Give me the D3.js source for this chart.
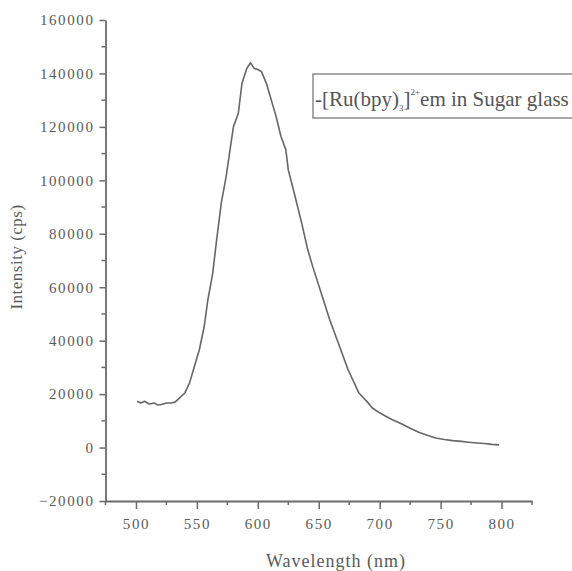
<!DOCTYPE html>
<html><head><meta charset="utf-8">
<script src="https://cdn.jsdelivr.net/npm/d3@7"></script>
<style>
body{margin:0;background:#fff;}
text{font-family:"Liberation Serif","Times New Roman",serif;}
</style></head>
<body><svg id="c" width="572" height="571"></svg>
<script>
const wavelength = [501,504,507,511,515,518,521,525,529,532,535,540,544,548,552,556,559,563,566,570,574,578,580,584,587,591,594,597,600,603,607,611,615,619,623,625,630,636,641,645,652,659,667,674,683,690,694,700,705,710,715,719,725,732,739,746,753,760,767,773,780,786,792,798];
const intensity = [17300,16700,17300,16300,16700,15900,16100,16700,16700,17000,18200,20400,24200,30400,36600,45300,55300,65300,77000,91500,101400,113900,120100,125100,136300,141900,144000,141900,141500,140700,136300,130100,123900,116400,111400,103900,95000,84000,74000,67800,57800,47800,37900,29200,20400,17000,14800,13000,11700,10500,9500,8600,7200,5700,4600,3600,3000,2600,2300,2000,1700,1500,1200,1000];
const xTicks = [500,550,600,650,700,750,800];
const yTicks = [-20000,0,20000,40000,60000,80000,100000,120000,140000,160000];
const xTitle = "Wavelength (nm)";
const yTitle = "Intensity (cps)";
const legendLabel = ["-[Ru(bpy)", "3", "]", "2+", "em in Sugar glass"];

const svg = d3.select("#c");
const x = d3.scaleLinear().domain([475,825]).range([105.5,532]);
const y = d3.scaleLinear().domain([-20000,160000]).range([501,20]);
const axCol = "#6a6a6a", txtCol = "#5a5a5a";

// minor ticks
const xMinor = d3.range(475, 826, 25).filter(v => v % 50 !== 0);
const yMinor = d3.range(-10000, 160000, 20000);
const gx = svg.append("g").attr("transform", `translate(0,${y.range()[0]})`);
gx.selectAll("line.minor").data(xMinor).join("line")
  .attr("x1", d=>x(d)).attr("x2", d=>x(d)).attr("y1",0).attr("y2",4)
  .attr("stroke", axCol).attr("stroke-width",1.5);
const xAxis = d3.axisBottom(x).tickValues(xTicks).tickSize(8).tickPadding(9).tickSizeOuter(0);
gx.call(xAxis);
gx.select(".domain").attr("stroke", axCol).attr("stroke-width",1.8);
gx.selectAll(".tick line").attr("stroke", axCol).attr("stroke-width",1.5);
gx.selectAll(".tick text").attr("fill", txtCol).style("font-size","15px").style("letter-spacing","1.6px")
  .style("font-family","'Liberation Serif',serif");

const gy = svg.append("g").attr("transform", `translate(${x.range()[0]},0)`);
gy.selectAll("line.minor").data(yMinor).join("line")
  .attr("y1", d=>y(d)).attr("y2", d=>y(d)).attr("x1",0).attr("x2",-4)
  .attr("stroke", axCol).attr("stroke-width",1.5);
const yAxis = d3.axisLeft(y).tickValues(yTicks).tickSize(6).tickPadding(5).tickSizeOuter(0).tickFormat(d3.format("d"));
gy.call(yAxis);
gy.select(".domain").attr("stroke", axCol).attr("stroke-width",1.8);
gy.selectAll(".tick line").attr("stroke", axCol).attr("stroke-width",1.5);
gy.selectAll(".tick text").attr("fill", txtCol).style("font-size","15px").style("letter-spacing","1.6px")
  .style("font-family","'Liberation Serif',serif");

// line
const line = d3.line().x((d,i)=>x(wavelength[i])).y(d=>y(d));
svg.append("path").datum(intensity).attr("d", line)
  .attr("fill","none").attr("stroke","#666").attr("stroke-width",1.6).attr("stroke-linejoin","round");

// titles
svg.append("text").attr("x",336).attr("y",567).attr("text-anchor","middle")
  .attr("fill",txtCol).style("font-size","18px").style("letter-spacing","1px").text(xTitle);
svg.append("text").attr("transform","translate(22,257) rotate(-90)").attr("text-anchor","middle")
  .attr("fill",txtCol).style("font-size","17px").style("letter-spacing","0.5px").text(yTitle);

// legend
svg.append("rect").attr("x",313).attr("y",74).attr("width",270).attr("height",44)
  .attr("fill","#fff").attr("stroke","#8a8a8a").attr("stroke-width",1.5);
const lt = svg.append("text").attr("x",315).attr("y",106).attr("fill","#555").style("font-size","21px");
lt.append("tspan").text(legendLabel[0]);
lt.append("tspan").attr("dy",5).style("font-size","9px").text(legendLabel[1]);
lt.append("tspan").attr("dy",-5).text(legendLabel[2]);
lt.append("tspan").attr("dy",-11).style("font-size","9px").text(legendLabel[3]);
lt.append("tspan").attr("dy",11).text(legendLabel[4]);
</script></body></html>
